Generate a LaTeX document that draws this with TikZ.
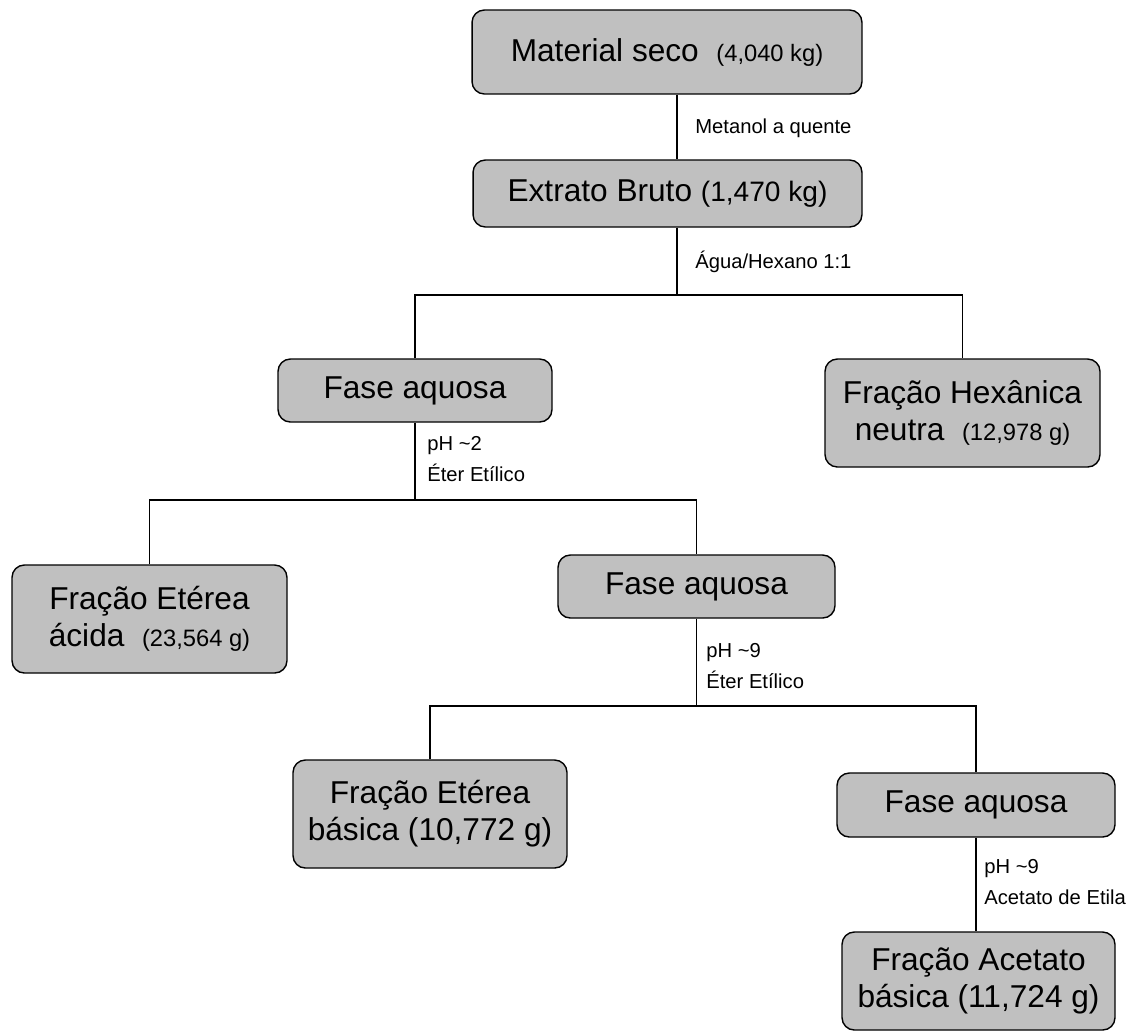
\documentclass[tikz,border=0pt]{standalone}
\usepackage{fontspec}
\setmainfont{Liberation Sans}
\usetikzlibrary{positioning}
\definecolor{BoxGray}{HTML}{C0C0C0}
\tikzset{
  box/.style={draw, fill=BoxGray, rounded corners=7pt, align=center, line width=0.8pt, inner sep=2pt, font=\fontsize{18}{21}\selectfont},
  lbl/.style={anchor=west, align=left, inner sep=0pt, font=\fontsize{11.5}{18}\selectfont},
  link/.style={line width=0.8pt}
}
\newcommand{\amount}[1]{{\fontsize{13.5}{21}\selectfont #1}}

\begin{document}
\begin{tikzpicture}[x=0.02cm, y=-0.02cm]
  \useasboundingbox (0,0) rectangle (1131,1032);

  \node[box, minimum width=7.8cm, minimum height=1.68cm] (mat) at (667,52) {Material seco \ \amount{(4,040 kg)}};
  \node[box, minimum width=7.78cm, minimum height=1.34cm] (bruto) at (667.5,193.5) {Extrato Bruto {\fontsize{16}{21}\selectfont (1,470 kg)}};
  \node[box, minimum width=5.48cm, minimum height=1.26cm] (aq1) at (415,390.5) {Fase aquosa};
  \node[box, minimum width=5.5cm, minimum height=2.16cm] (hex) at (962.5,413) {Fração Hexânica\\neutra \ \amount{(12,978 g)}};
  \node[box, minimum width=5.5cm, minimum height=2.16cm] (eta) at (149.5,619) {Fração Etérea\\ácida \ \amount{(23,564 g)}};
  \node[box, minimum width=5.54cm, minimum height=1.26cm] (aq2) at (696.5,586.5) {Fase aquosa};
  \node[box, minimum width=5.48cm, minimum height=2.16cm] (etb) at (430,814) {Fração Etérea\\básica (10,772 g)};
  \node[box, minimum width=5.56cm, minimum height=1.28cm] (aq3) at (976,805) {Fase aquosa};
  \node[box, minimum width=5.46cm, minimum height=1.96cm] (ace) at (978.5,981) {Fração Acetato\\básica (11,724 g)};

  % joints of the split lines
  \coordinate (j1) at (677,295);
  \coordinate (j2) at (415,500);
  \coordinate (j3) at (696.5,706);

  \draw[link] (mat.south -| j1) -- (bruto.north -| j1);
  \draw[link] (bruto.south -| j1) -- (j1);
  \draw[link] (aq1.north) |- (j1) -| (hex.north);
  \draw[link] (aq1.south) -- (j2);
  \draw[link] (eta.north) |- (j2) -| (aq2.north);
  \draw[link] (aq2.south) -- (j3);
  \draw[link] (etb.north) |- (j3) -| (aq3.north);
  \draw[link] (aq3.south) -- (aq3.south |- ace.north);

  \node[lbl] (l1) at (695,128) {Metanol a quente};
  \node[lbl] (l2) at (695,262) {Água/Hexano 1:1};
  \node[lbl] (l3) at (427,459) {pH \textasciitilde2\\Éter Etílico};
  \node[lbl] (l4) at (706,666) {pH \textasciitilde9\\Éter Etílico};
  \node[lbl] (l5) at (984,882) {pH \textasciitilde9\\Acetato de Etila};
\end{tikzpicture}
\end{document}
